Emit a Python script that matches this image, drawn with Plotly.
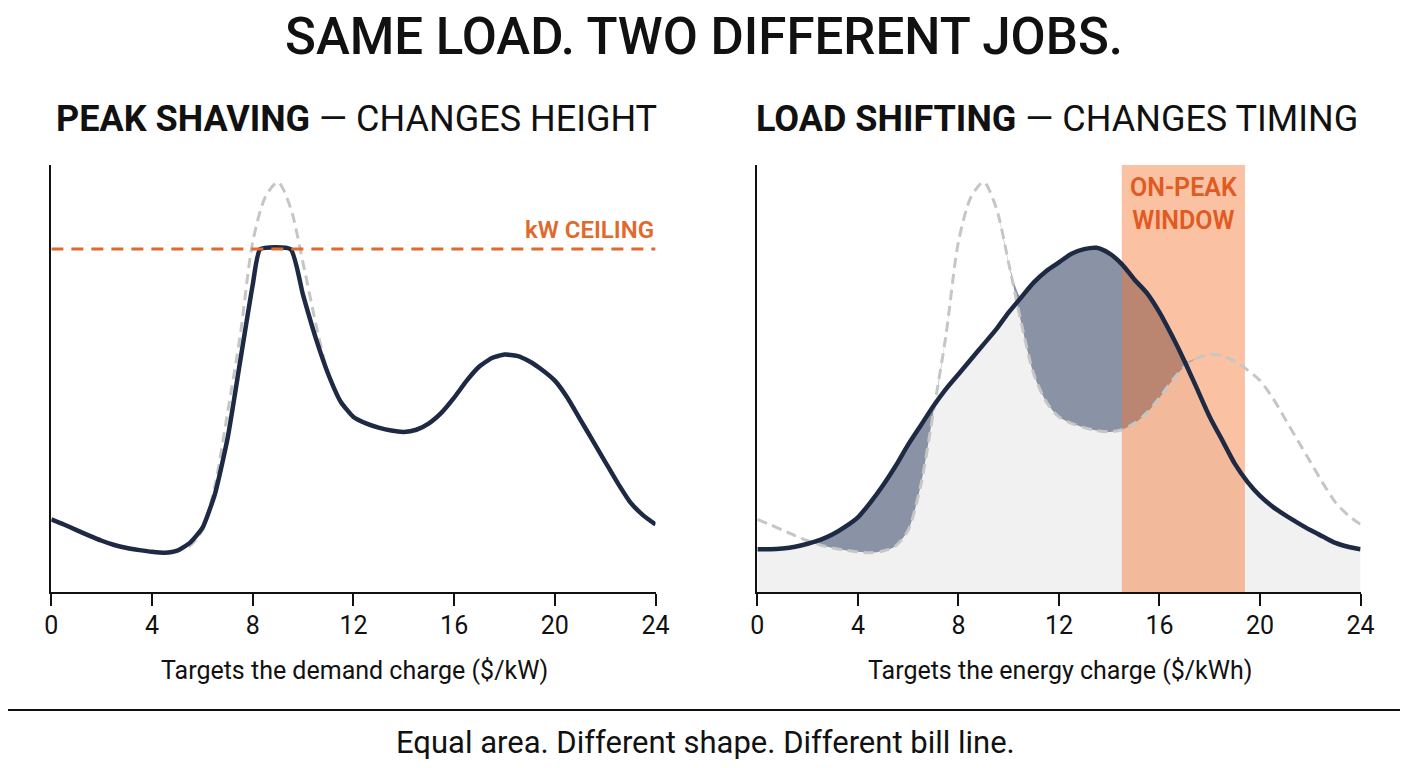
import plotly.graph_objects as go

# half-hour grid used by both panels
hours = [h / 2 for h in range(49)]

# original load (grey dashed, same in both panels)
original_load = [17, 15.8, 14.5, 13.2, 12, 11, 10.3, 9.8, 9.4, 9.2, 9.6, 10.8,
                 14.5, 25, 42, 60, 82, 92.5, 96, 90, 77, 63, 51, 44.5,
                 41, 39.5, 38.5, 37.8, 37.5, 38, 39.5, 42, 45.5, 49.5, 52.8, 54.8,
                 55.6, 55.3, 54, 52, 49.5, 45.5, 40.5, 35.5, 30.5, 25.5, 21, 18, 15.8]

# load shifted later in the day (right panel)
shifted_load = [10, 10, 10.2, 10.6, 11.3, 12.2, 13.5, 15.3, 17.5, 21, 25, 29.5,
                34.5, 39, 43.5, 47.5, 51, 54.5, 58, 61.5, 65.5, 69, 72.5, 75.2,
                77.2, 79.2, 80.3, 80.6, 79.3, 76.8, 73.2, 70, 65.5, 60, 54, 47.5,
                41, 35.5, 30, 25.8, 22.5, 20, 18, 16.2, 14.5, 13, 11.5, 10.6, 10]

# peak-shaved load (left panel)
shaved_hours = [0, 0.5, 1, 1.5, 2, 2.5, 3, 3.5, 4, 4.5, 5, 5.5, 6, 6.5, 7, 7.5, 8, 8.3, 9.5,
                10, 10.5, 11, 11.5, 12, 12.5, 13, 13.5, 14, 14.5, 15, 15.5, 16, 16.5, 17, 17.5,
                18, 18.5, 19, 19.5, 20, 20.5, 21, 21.5, 22, 22.5, 23, 23.5, 24]
shaved_load = [17, 15.8, 14.5, 13.2, 12, 11, 10.3, 9.8, 9.4, 9.2, 9.7, 11.5, 15, 23, 36, 54, 72, 80.3, 80.3,
               69.5, 59.5, 51, 44.5, 41, 39.5, 38.5, 37.8, 37.5, 38, 39.5, 42, 45.5, 49.5, 52.8, 54.8,
               55.6, 55.3, 54, 52, 49.5, 45.5, 40.5, 35.5, 30.5, 25.5, 21, 18, 15.8]

ceiling_kw = 80.3
window_start, window_end = 14.5, 19.4
tick_hours = [0, 4, 8, 12, 16, 20, 24]
y_top = 100

navy = '#1e2a44'
grey_dash = '#c6c6c6'
orange = '#e0692b'
font = 'Roboto'

# page is drawn inside the 8px body margin; the capture squeezes x a little
W, H, OFF = 1392, 752, 8
SX, DX = 0.98627, 5.7


def px(x):
    return ((x - DX) / SX - OFF) / W


def py(y):
    return 1 - (y - OFF) / H


upper = [max(o, s) for o, s in zip(original_load, shifted_load)]

fig = go.Figure()

# ---- left panel: peak shaving
fig.add_trace(go.Scatter(x=hours, y=original_load, mode='lines', xaxis='x', yaxis='y',
                         line=dict(color=grey_dash, width=3, dash='10px,6px', shape='spline', smoothing=0.8)))
fig.add_trace(go.Scatter(x=shaved_hours, y=shaved_load, mode='lines', xaxis='x', yaxis='y',
                         line=dict(color=navy, width=4.5, shape='spline', smoothing=0.5)))
fig.add_trace(go.Scatter(x=[0, 24], y=[ceiling_kw, ceiling_kw], mode='lines', xaxis='x', yaxis='y',
                         line=dict(color=orange, width=3, dash='12px,8px')))

# ---- right panel: load shifting
fig.add_trace(go.Scatter(x=hours, y=shifted_load, mode='lines', xaxis='x2', yaxis='y2',
                         fill='tozeroy', fillcolor='#f1f1f1',
                         line=dict(width=0, shape='spline', smoothing=0.8)))
fig.add_trace(go.Scatter(x=hours, y=original_load, mode='lines', xaxis='x2', yaxis='y2',
                         line=dict(width=0, shape='spline', smoothing=0.8)))
fig.add_trace(go.Scatter(x=hours, y=upper, mode='lines', xaxis='x2', yaxis='y2',
                         fill='tonexty', fillcolor='#8a93a6',
                         line=dict(width=0, shape='spline', smoothing=0.8)))
fig.add_trace(go.Scatter(x=[window_start, window_start, window_end, window_end],
                         y=[0, y_top, y_top, 0], mode='lines', xaxis='x2', yaxis='y2',
                         fill='toself', fillcolor='rgba(244,120,52,0.45)', line=dict(width=0)))
fig.add_trace(go.Scatter(x=hours, y=original_load, mode='lines', xaxis='x2', yaxis='y2',
                         line=dict(color=grey_dash, width=3, dash='10px,6px', shape='spline', smoothing=0.8)))
fig.add_trace(go.Scatter(x=hours, y=shifted_load, mode='lines', xaxis='x2', yaxis='y2',
                         line=dict(color=navy, width=4.5, shape='spline', smoothing=0.8)))

xax = dict(range=[0, 24], tickvals=tick_hours, showline=True, linecolor='#111', linewidth=2,
           ticks='outside', ticklen=12, tickwidth=2, tickcolor='#111', showgrid=False, zeroline=False,
           ticklabelstandoff=-2, tickfont=dict(family=font, size=25, color='#111'), fixedrange=True)
yax = dict(range=[0, y_top], showline=True, linecolor='#111', linewidth=2, showticklabels=False,
           ticks='', showgrid=False, zeroline=False, domain=[py(592), py(165)])

fig.update_layout(
    width=W, height=H, showlegend=False,
    margin=dict(l=0, r=0, t=0, b=0),
    paper_bgcolor='white', plot_bgcolor='rgba(0,0,0,0)',
    xaxis=dict(xax, domain=[px(50), px(655)]),
    xaxis2=dict(xax, domain=[px(757), px(1361)]),
    yaxis=dict(yax, anchor='x'),
    yaxis2=dict(yax, anchor='x2'),
)

# titles and labels
texts = [
    ('SAME LOAD. TWO DIFFERENT JOBS.', 704, 36, dict(size=51, weight=500)),
    ('<b>PEAK SHAVING</b> — CHANGES HEIGHT', 356, 119, dict(size=36)),
    ('<b>LOAD SHIFTING</b> — CHANGES TIMING', 1057, 119, dict(size=36)),
    ('Targets the demand charge ($/kW)', 354, 670, dict(size=25)),
    ('Targets the energy charge ($/kWh)', 1060, 670, dict(size=25)),
    ('Equal area. Different shape. Different bill line.', 705, 742, dict(size=31)),
]
for text, x, y, f in texts:
    fig.add_annotation(text=text, x=px(x), y=py(y), xref='paper', yref='paper',
                       xanchor='center', yanchor='middle', showarrow=False,
                       font=dict(family=font, color='#111', **f))

fig.add_annotation(text='kW CEILING', x=24, y=ceiling_kw, xref='x', yref='y', xanchor='right',
                   yanchor='bottom', yshift=3, showarrow=False,
                   font=dict(family=font, size=24, color=orange, weight=600))
fig.add_annotation(text='ON-PEAK<br>WINDOW', x=(window_start + window_end) / 2, y=y_top, xref='x2', yref='y2',
                   yanchor='top', yshift=-6, showarrow=False,
                   font=dict(family=font, size=25, color='#e05a22', weight=600))

fig.add_shape(type='line', xref='paper', yref='paper', x0=-0.02, x1=1.02, y0=py(710), y1=py(710),
              line=dict(color='#111', width=2))

fig.write_html('out.html')
